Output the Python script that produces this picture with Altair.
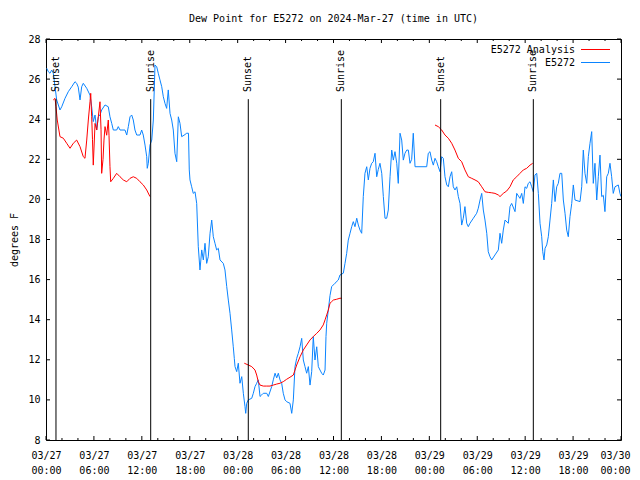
import json
import altair as alt
import pandas as pd

# ---- data (hours since 2024-03-27 00:00 UTC) ----
obs_hours = [0.09, 0.29, 0.50, 0.71, 0.91, 1.34, 1.75, 1.97, 2.38, 2.79, 3.22, 3.63, 3.84, 4.04, 4.26, 4.47,
             4.67, 5.10, 5.51, 5.72, 5.92, 6.14, 6.35, 6.55, 6.76, 6.97, 7.39, 7.80, 8.01, 8.23, 8.43, 8.85,
             9.05, 9.27, 9.89, 10.11, 10.31, 10.52, 10.73, 10.93, 11.14, 11.36, 11.77, 11.98, 12.18, 12.40,
             12.61, 12.68, 12.81, 13.02, 13.24, 13.44, 13.65, 13.86, 14.06, 14.27, 14.49, 14.69, 14.90, 15.11,
             15.31, 15.53, 15.74, 15.94, 16.15, 16.37, 16.57, 16.78, 16.99, 17.28, 17.62, 17.84, 17.94, 18.03,
             18.24, 18.44, 18.66, 18.87, 19.07, 19.28, 19.50, 19.70, 19.91, 20.12, 20.32, 20.54, 20.75, 20.95,
             21.16, 21.37, 21.58, 21.79, 22.20, 22.41, 22.63, 22.83, 23.04, 23.25, 23.45, 23.58, 23.67, 23.88,
             24.08, 24.29, 24.51, 24.71, 24.92, 25.01, 25.13, 25.33, 25.76, 25.96, 26.17, 26.38, 26.58, 26.80,
             27.01, 27.21, 27.64, 27.84, 28.26, 28.46, 28.68, 28.89, 29.09, 29.30, 29.51, 29.71, 29.93, 30.14,
             30.55, 30.77, 30.97, 31.18, 31.39, 31.59, 31.81, 32.02, 32.22, 32.43, 32.64, 32.85, 33.06, 33.27,
             33.47, 33.68, 33.90, 34.10, 34.31, 34.52, 34.72, 34.94, 35.06, 35.15, 35.35, 35.56, 35.77, 36.19,
             36.60, 36.81, 37.23, 37.44, 37.65, 37.85, 38.07, 38.28, 38.48, 38.69, 38.91, 39.11, 39.32, 39.53,
             39.73, 39.94, 40.16, 40.36, 40.57, 40.78, 40.98, 41.20, 41.41, 41.61, 41.82, 42.04, 42.24, 42.45,
             42.66, 42.86, 43.08, 43.29, 43.49, 43.70, 43.92, 44.11, 44.33, 44.54, 44.74, 44.95, 45.17, 45.37,
             45.58, 45.79, 45.99, 46.21, 47.67, 47.87, 48.08, 48.30, 48.50, 48.71, 48.92, 49.12, 49.34, 49.55,
             49.75, 49.96, 50.18, 50.38, 50.59, 50.80, 51.00, 51.21, 51.43, 51.63, 51.84, 52.05, 52.25, 52.46,
             52.68, 52.88, 53.09, 53.51, 53.93, 54.13, 54.35, 54.56, 54.76, 54.97, 55.19, 55.38, 55.60, 55.81,
             56.22, 56.64, 56.85, 57.06, 57.26, 57.48, 57.89, 58.10, 58.31, 58.73, 58.94, 59.35, 59.57, 59.77,
             59.98, 60.19, 60.39, 60.61, 60.82, 61.02, 61.23, 61.45, 61.65, 61.86, 62.07, 62.20, 62.36, 62.49,
             62.70, 62.90, 63.11, 63.32, 63.53, 63.74, 63.95, 64.15, 64.36, 64.58, 64.78, 64.99, 65.20, 65.40,
             65.61, 65.83, 66.03, 66.24, 66.87, 67.08, 67.28, 67.49, 67.71, 67.91, 68.12, 68.33, 68.53, 68.74,
             68.96, 69.16, 69.37, 69.58, 69.79, 69.99, 70.21, 70.41, 70.62, 70.83, 71.03, 71.25, 71.66, 71.87,
             72.00]
obs_values = [26.54, 26.37, 26.29, 26.45, 26.30, 24.96, 24.46, 24.62, 25.04, 25.37, 25.62, 25.87, 25.79, 25.60,
              24.96, 25.62, 25.79, 25.54, 25.20, 24.62, 23.88, 24.21, 23.46, 24.12, 24.21, 24.46, 24.71, 24.62,
              24.12, 23.79, 23.46, 23.46, 23.63, 23.46, 23.46, 23.21, 23.63, 24.12, 24.21, 23.96, 23.46, 23.21,
              23.21, 23.46, 23.21, 22.71, 22.13, 21.55, 21.80, 22.71, 22.96, 23.96, 26.70, 26.62, 26.29, 25.96,
              25.62, 25.12, 24.79, 24.54, 25.46, 24.29, 23.96, 23.46, 22.30, 21.88, 24.12, 23.79, 23.13, 23.20,
              23.30, 23.30, 21.47, 20.97, 20.63, 20.30, 20.38, 19.80, 17.64, 16.48, 17.48, 16.98, 17.81, 16.81,
              17.14, 18.31, 18.97, 18.14, 17.81, 17.48, 17.56, 16.98, 16.81, 16.48, 15.65, 14.98, 14.32, 13.49,
              12.65, 12.07, 11.66, 11.41, 11.83, 10.83, 11.16, 10.33, 9.66, 9.33, 9.83, 10.00, 10.08, 10.33,
              10.66, 10.83, 11.00, 10.17, 10.25, 10.33, 10.33, 10.17, 10.66, 11.00, 11.33, 11.10, 11.33, 11.00,
              10.83, 10.33, 10.00, 9.91, 9.83, 9.33, 10.00, 11.66, 12.07, 12.32, 12.65, 13.07, 11.99, 11.66,
              11.33, 11.66, 10.74, 11.41, 13.16, 11.99, 12.65, 11.66, 11.49, 11.33, 11.24, 11.49, 13.16, 13.82,
              14.48, 15.20, 15.65, 15.82, 15.98, 16.23, 16.32, 16.81, 17.31, 17.97, 18.31, 18.64, 18.89, 18.64,
              19.06, 18.72, 18.47, 18.31, 20.14, 21.30, 21.63, 20.97, 21.55, 21.80, 21.88, 22.30, 21.13, 21.50,
              21.80, 21.30, 20.14, 19.06, 19.06, 19.47, 21.13, 22.46, 21.96, 22.38, 21.80, 20.80, 23.30, 22.96,
              21.96, 22.30, 22.46, 22.46, 21.80, 22.00, 23.30, 21.63, 21.63, 22.30, 22.38, 21.96, 21.71, 22.05,
              21.88, 21.63, 21.38, 22.13, 22.05, 21.13, 20.72, 20.63, 21.13, 21.38, 20.63, 20.47, 20.63, 20.14,
              19.80, 18.72, 19.06, 19.64, 18.81, 18.64, 18.81, 19.06, 19.31, 19.56, 19.97, 20.30, 19.47, 18.97,
              18.31, 17.39, 17.14, 16.98, 17.23, 17.48, 18.31, 17.81, 18.47, 18.97, 18.81, 19.64, 19.80, 19.39,
              20.30, 20.05, 20.30, 19.80, 20.63, 20.55, 20.80, 20.88, 20.63, 20.38, 21.22, 21.30, 20.30, 18.81,
              18.14, 17.39, 16.98, 17.56, 17.73, 18.14, 18.97, 19.80, 20.97, 19.89, 20.63, 20.80, 21.30, 21.30,
              19.97, 19.31, 18.47, 18.14, 19.14, 19.80, 20.72, 19.97, 19.89, 20.63, 22.46, 21.30, 20.80, 22.13,
              22.80, 23.38, 20.80, 21.80, 19.97, 21.13, 22.21, 20.14, 20.20, 19.39, 21.13, 21.30, 21.80, 21.13,
              20.30, 20.63, 20.72, 20.30, 20.14]

ana1_hours = [0.91, 1.13, 1.25, 1.41, 1.75, 2.17, 2.59, 3.01, 3.42, 3.84, 4.26, 4.67, 4.88, 5.10, 5.30, 5.51,
              5.60, 5.72, 5.82, 5.92, 6.14, 6.35, 6.55, 6.76, 6.89, 6.97, 7.14, 7.26, 7.39, 7.60, 7.80, 7.89,
              8.01, 8.10, 8.43, 8.85, 9.27, 9.68, 10.11, 10.52, 10.93, 11.36, 11.77, 12.18, 12.61, 13.02]
ana1_values = [24.96, 25.04, 24.62, 23.96, 23.13, 23.05, 22.80, 22.55, 22.80, 22.96, 22.63, 22.13, 22.05, 22.96,
               23.96, 24.87, 25.29, 24.12, 23.00, 21.71, 23.79, 23.46, 24.12, 24.87, 23.50, 21.30, 22.00, 22.96,
               23.63, 23.20, 23.96, 23.20, 21.63, 20.88, 21.05, 21.30, 21.13, 20.97, 20.88, 21.05, 21.13, 21.05,
               20.88, 20.72, 20.47, 20.14]
ana2_hours = [24.83, 25.33, 25.76, 26.17, 26.38, 26.58, 26.80, 27.21, 27.64, 28.05, 28.46, 28.89, 29.30, 29.71,
              30.14, 30.55, 30.97, 31.39, 31.81, 32.22, 32.64, 33.06, 33.47, 33.90, 34.31, 34.72, 34.94, 35.15,
              35.35, 35.56, 35.77, 35.98, 36.40, 36.81, 37.03]
ana2_values = [11.83, 11.74, 11.66, 11.49, 11.24, 10.91, 10.74, 10.69, 10.69, 10.69, 10.74, 10.79, 10.83, 10.91,
               11.03, 11.13, 11.24, 11.74, 12.15, 12.49, 12.74, 12.99, 13.16, 13.32, 13.49, 13.74, 13.99, 14.24,
               14.48, 14.82, 14.90, 14.98, 15.02, 15.07, 15.07]
ana3_hours = [48.71, 49.12, 49.55, 49.96, 50.38, 50.80, 51.21, 51.63, 52.05, 52.46, 52.88, 53.31, 53.72, 54.13,
              54.56, 54.97, 55.38, 55.81, 56.22, 56.64, 56.85, 57.26, 57.69, 58.10, 58.51, 58.94, 59.35, 59.77,
              60.19, 60.61, 60.94]
ana3_values = [23.71, 23.63, 23.46, 23.21, 23.05, 22.80, 22.46, 22.05, 21.88, 21.47, 21.13, 21.05, 20.97, 20.88,
               20.63, 20.38, 20.35, 20.33, 20.30, 20.22, 20.14, 20.30, 20.42, 20.63, 20.97, 21.13, 21.30, 21.47,
               21.55, 21.71, 21.80]

sun_hours = [1.25, 13.11, 25.33, 36.98, 49.42, 61.02]
sun_labels = ["Sunset", "Sunrise", "Sunset", "Sunrise", "Sunset", "Sunrise"]

x_major = [0, 6, 12, 18, 24, 30, 36, 42, 48, 54, 60, 66, 72]
x_minor = [h for h in range(0, 73, 2) if h % 6 != 0]
x_labels = [["03/27", "00:00"], ["03/27", "06:00"], ["03/27", "12:00"], ["03/27", "18:00"],
            ["03/28", "00:00"], ["03/28", "06:00"], ["03/28", "12:00"], ["03/28", "18:00"],
            ["03/29", "00:00"], ["03/29", "06:00"], ["03/29", "12:00"], ["03/29", "18:00"],
            ["03/30", "00:00"]]
y_ticks = [8, 10, 12, 14, 16, 18, 20, 22, 24, 26, 28]

TITLE = "Dew Point for E5272 on 2024-Mar-27 (time in UTC)"
LEG_A = "E5272 Analysis"
LEG_B = "E5272"
RED = "#ff0000"
BLUE = "#0a84ff"
FONT = "DejaVu Sans Mono"
W, H = 575, 401

obs = pd.DataFrame({"h": obs_hours, "v": obs_values})
ana = pd.concat([
    pd.DataFrame({"h": ana1_hours, "v": ana1_values, "seg": 1}),
    pd.DataFrame({"h": ana2_hours, "v": ana2_values, "seg": 2}),
    pd.DataFrame({"h": ana3_hours, "v": ana3_values, "seg": 3}),
])
sun = pd.DataFrame({"h": sun_hours, "label": sun_labels, "top": 25, "bot": 8})
majors = pd.DataFrame({"h": x_major})
minors = pd.DataFrame({"h": x_minor})
yt = pd.DataFrame({"v": y_ticks})

xscale = alt.Scale(domain=[0, 72], nice=False, zero=False)
yscale = alt.Scale(domain=[8, 28], nice=False, zero=False)

label_expr = json.dumps(x_labels) + "[round(datum.value / 6)]"

xaxis = alt.Axis(values=x_major, labelExpr=label_expr, ticks=False, tickSize=0, domain=False, grid=False,
                 labelFont=FONT, labelFontSize=10, labelColor="black", labelPadding=10, labelLineHeight=15,
                 labelBaseline="top", title=None, labelFlush=False,
                 labelOffset={"condition": {"test": "datum.value >= 72", "value": -6}, "value": 0})
yaxis = alt.Axis(values=y_ticks, ticks=False, tickSize=0, domain=False, grid=False,
                 labelFont=FONT, labelFontSize=10, labelColor="black", labelPadding=6,
                 title="degrees F", titleFont=FONT, titleFontSize=10, titleFontWeight="normal",
                 titleColor="black", titlePadding=8)

base_x = alt.X("h:Q", scale=xscale, axis=xaxis)
base_y = alt.Y("v:Q", scale=yscale, axis=yaxis)

blue_line = alt.Chart(obs).mark_line(color=BLUE, strokeWidth=1, clip=True).encode(x=base_x, y=base_y)
red_line = alt.Chart(ana).mark_line(color=RED, strokeWidth=1, clip=True).encode(
    x=alt.X("h:Q", scale=xscale), y=alt.Y("v:Q", scale=yscale), detail="seg:N")

sun_rules = alt.Chart(sun).mark_rule(color="black", strokeWidth=1).encode(
    x=alt.X("h:Q", scale=xscale), y=alt.Y("top:Q", scale=yscale), y2="bot:Q")
sun_text = alt.Chart(sun).mark_text(angle=270, align="left", baseline="middle", font=FONT, fontSize=10,
                                    color="black").encode(
    x=alt.X("h:Q", scale=xscale), y=alt.value(53), text="label:N")

maj_b = alt.Chart(majors).mark_rule(color="black").encode(
    x=alt.X("h:Q", scale=xscale), y=alt.value(H), y2=alt.value(H - 4))
maj_t = alt.Chart(majors).mark_rule(color="black").encode(
    x=alt.X("h:Q", scale=xscale), y=alt.value(0), y2=alt.value(4))
min_b = alt.Chart(minors).mark_rule(color="black").encode(
    x=alt.X("h:Q", scale=xscale), y=alt.value(H), y2=alt.value(H - 2))
min_t = alt.Chart(minors).mark_rule(color="black").encode(
    x=alt.X("h:Q", scale=xscale), y=alt.value(0), y2=alt.value(2))
yt_l = alt.Chart(yt).mark_rule(color="black").encode(
    y=alt.Y("v:Q", scale=yscale), x=alt.value(0), x2=alt.value(4))
yt_r = alt.Chart(yt).mark_rule(color="black").encode(
    y=alt.Y("v:Q", scale=yscale), x=alt.value(W - 4), x2=alt.value(W))

leg_a_text = alt.Chart(pd.DataFrame({"t": [LEG_A]})).mark_text(
    align="right", baseline="middle", font=FONT, fontSize=10, color="black").encode(
    x=alt.value(529), y=alt.value(10.5), text="t:N")
leg_b_text = alt.Chart(pd.DataFrame({"t": [LEG_B]})).mark_text(
    align="right", baseline="middle", font=FONT, fontSize=10, color="black").encode(
    x=alt.value(529), y=alt.value(23.5), text="t:N")
leg_a_line = alt.Chart(pd.DataFrame({"t": [LEG_A]})).mark_rule(color=RED, strokeWidth=1).encode(
    x=alt.value(535), x2=alt.value(564), y=alt.value(10.5))
leg_b_line = alt.Chart(pd.DataFrame({"t": [LEG_B]})).mark_rule(color=BLUE, strokeWidth=1).encode(
    x=alt.value(535), x2=alt.value(564), y=alt.value(23.5))

chart = alt.layer(
    blue_line, red_line, sun_rules, sun_text,
    maj_b, maj_t, min_b, min_t, yt_l, yt_r,
    leg_a_text, leg_b_text, leg_a_line, leg_b_line,
).properties(
    width=W, height=H,
    title=alt.TitleParams(TITLE, font=FONT, fontSize=10, fontWeight="normal", color="black",
                          anchor="middle", offset=10),
    autosize=alt.AutoSizeParams(type="none"),
    padding={"left": 38, "top": 31, "right": 11, "bottom": 40},
    background="white",
).configure_view(stroke="black", strokeWidth=1)

chart.save("out.html", embed_options={"renderer": "svg", "actions": False})
